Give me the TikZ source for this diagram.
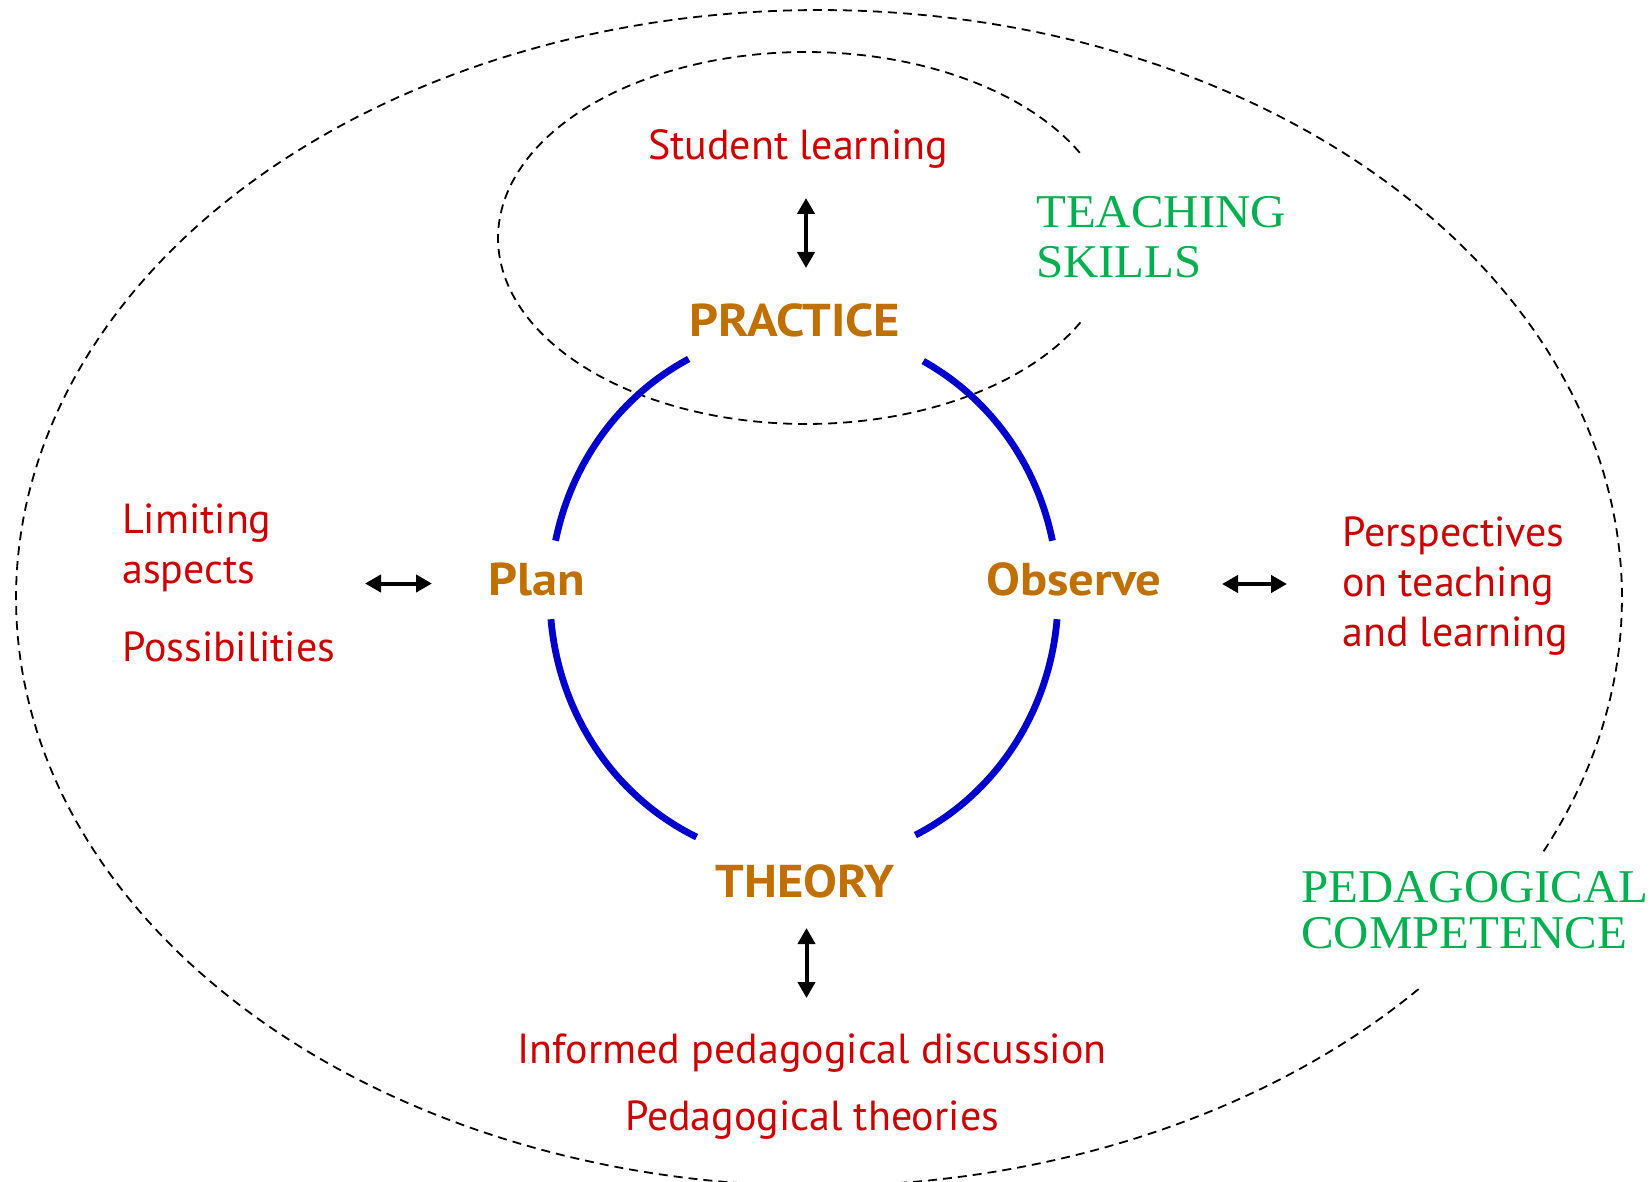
\documentclass[tikz,border=0pt]{standalone}
\usepackage{fontspec}
\usetikzlibrary{arrows.meta}
\newfontfamily\sansfam{PT Sans}
\newfontfamily\sanswide{PT Sans}[FakeStretch=1.1]
\newfontfamily\capsfam{Liberation Serif}[FakeStretch=1.04]
\definecolor{myred}{RGB}{204,0,0}
\definecolor{mybrown}{RGB}{191,112,0}
\definecolor{mygreen}{RGB}{0,176,80}
\definecolor{myblue}{RGB}{0,0,204}
\tikzset{
  redtxt/.style={text=myred, font=\sansfam\fontsize{42}{50}\selectfont, inner sep=0pt},
  boldtxt/.style={text=mybrown, font=\sanswide\bfseries\fontsize{46}{54}\selectfont, inner sep=0pt},
  greentxt/.style={text=mygreen, font=\capsfam\fontsize{47}{50}\selectfont, inner sep=0pt},
  dashline/.style={draw=black, line width=1.8pt, dash pattern=on 9pt off 6pt},
  cycleline/.style={draw=myblue, line width=6.8pt},
  dblarrow/.style={line width=4pt, {Triangle[length=16pt,width=17pt]}-{Triangle[length=16pt,width=17pt]}}
}
\begin{document}
\begin{tikzpicture}[x=1pt,y=-1pt]
\path[use as bounding box] (0,0) rectangle (1652,1182);
\clip (0,0) rectangle (1652,1182);
% outer dashed ellipse (pedagogical competence)
\draw[dashline] plot[domain=41.7:385.6, samples=300] ({819+803*cos(\x)},{598+588*sin(\x)});
% inner dashed ellipse (teaching skills)
\draw[dashline] plot[domain=27:333, samples=200] ({806+308*cos(\x)},{238+186*sin(\x)});
% blue cycle
\draw[cycleline] plot[domain=-62:-12, samples=60] ({804+254*cos(\x)},{596+266*sin(\x)});
\draw[cycleline] plot[domain=5:64, samples=60] ({804+254*cos(\x)},{596+266*sin(\x)});
\draw[cycleline] plot[domain=115:175, samples=60] ({804+254*cos(\x)},{596+266*sin(\x)});
\draw[cycleline] plot[domain=192:243, samples=60] ({804+254*cos(\x)},{596+266*sin(\x)});
% main labels
\node[boldtxt, anchor=base] (practice) at (795,337) {PRACTICE};
\node[boldtxt, anchor=base] (theory) at (805,897) {THEORY};
\node[boldtxt, anchor=base] (plan) at (537,595) {Plan};
\node[boldtxt, anchor=base] (observe) at (1074,595) {Observe};
% red texts
\node[redtxt, anchor=base] (student) at (798,160) {Student learning};
\node[redtxt, anchor=base] (informed) at (812,1063) {Informed pedagogical discussion};
\node[redtxt, anchor=base] (theories) at (812,1130) {Pedagogical theories};
\node[redtxt, anchor=base west] (limiting) at (122,533) {Limiting};
\node[redtxt, anchor=base west] (aspects) at (122,583) {aspects};
\node[redtxt, anchor=base west] (possib) at (122,661) {Possibilities};
\node[redtxt, anchor=base west] (persp) at (1342,546) {Perspectives};
\node[redtxt, anchor=base west] (onteach) at (1342,596) {on teaching};
\node[redtxt, anchor=base west] (andlearn) at (1342,646) {and learning};
% green texts
\node[greentxt, anchor=base west] (teaching) at (1036,228) {TEACHING};
\node[greentxt, anchor=base west] (skills) at (1036,278) {SKILLS};
\node[greentxt, anchor=base west] (pedag) at (1301,902) {PEDAGOGICAL};
\node[greentxt, anchor=base west] (compet) at (1301,948) {COMPETENCE};
% arrows
\coordinate (t1) at (806,198);
\coordinate (t2) at (806,268);
\coordinate (b1) at (806.5,928);
\coordinate (b2) at (806.5,998);
\coordinate (l1) at (365,583.5);
\coordinate (l2) at (432,583.5);
\coordinate (r1) at (1222,584);
\coordinate (r2) at (1287,584);
\draw[dblarrow] (t1) -- (t2);
\draw[dblarrow] (b1) -- (b2);
\draw[dblarrow] (l1) -- (l2);
\draw[dblarrow] (r1) -- (r2);
\end{tikzpicture}
\end{document}
